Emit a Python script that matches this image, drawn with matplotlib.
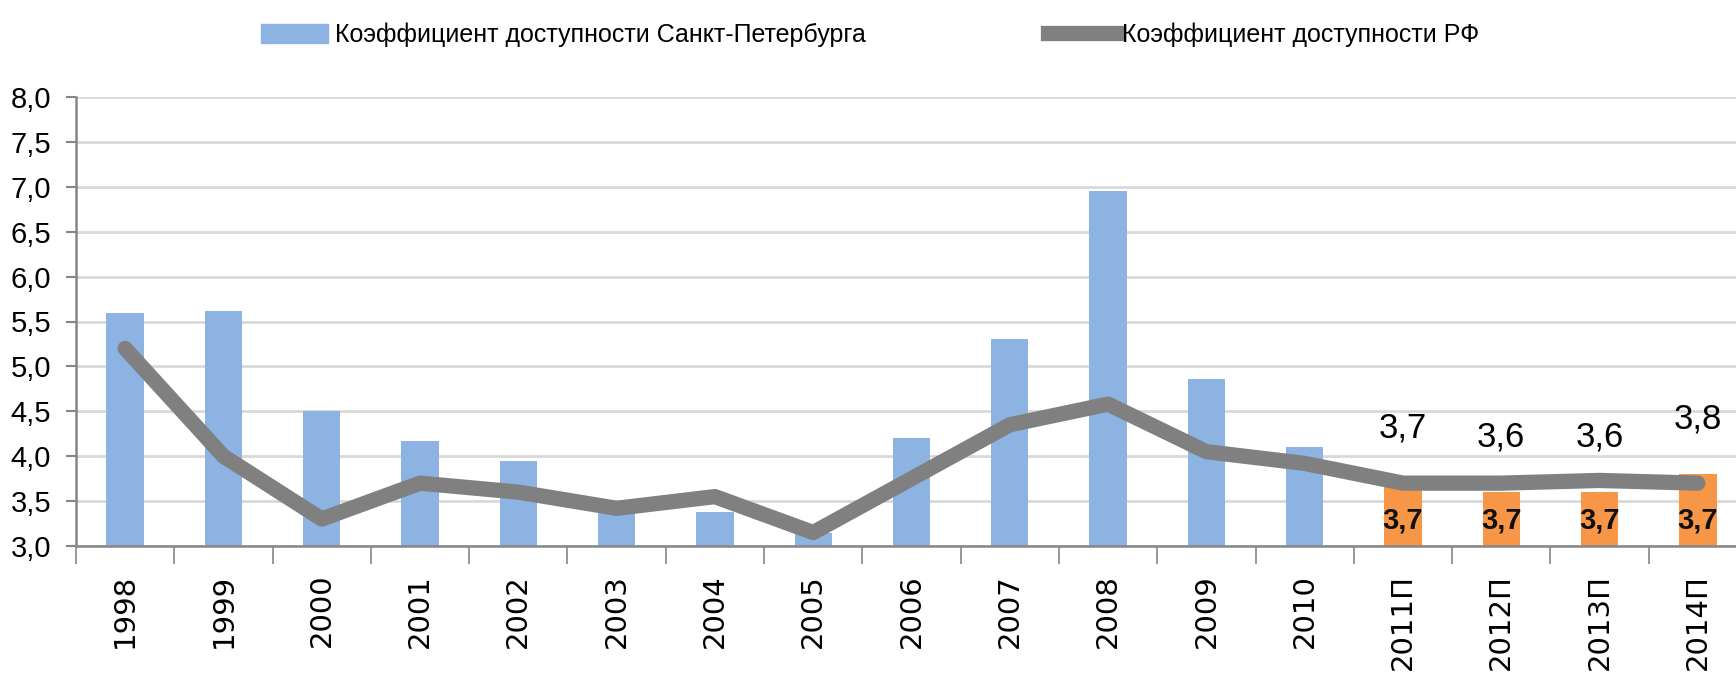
import matplotlib.pyplot as plt
from matplotlib.lines import Line2D
from matplotlib.patches import Patch
from matplotlib.ticker import FuncFormatter

plt.rcParams['font.family'] = ['Liberation Sans', 'DejaVu Sans']

years = ['1998', '1999', '2000', '2001', '2002', '2003', '2004', '2005', '2006',
         '2007', '2008', '2009', '2010', '2011П', '2012П', '2013П', '2014П']
spb = [5.6, 5.62, 4.5, 4.17, 3.95, 3.4, 3.38, 3.15, 4.2,
       5.3, 6.95, 4.86, 4.1, 3.7, 3.6, 3.6, 3.8]
rf = [5.2, 4.0, 3.3, 3.7, 3.6, 3.42, 3.55, 3.15, 3.75,
      4.35, 4.58, 4.05, 3.92, 3.7, 3.7, 3.73, 3.7]
forecast = [False] * 13 + [True] * 4
rf_labels = ['3,7', '3,7', '3,7', '3,7']

BLUE = '#8db3e2'
ORANGE = '#f79646'
GREY = '#808080'

fig = plt.figure(figsize=(17.36, 6.93), dpi=100)
ax = fig.add_axes([76 / 1736, 147 / 693, (1747 - 76) / 1736, 449 / 693])

x = list(range(len(years)))
colors = [ORANGE if f else BLUE for f in forecast]
ax.bar(x, [v - 3.0 for v in spb], bottom=3.0, width=0.38, color=colors, zorder=2)
ax.plot(x, rf, color=GREY, lw=11, solid_capstyle='round', solid_joinstyle='round', zorder=3)

# forecast labels
for i, f in enumerate(forecast):
    if not f:
        continue
    ax.annotate(f'{spb[i]:.1f}'.replace('.', ','), (i, spb[i]), xytext=(0, 40),
                textcoords='offset points', ha='center', va='center', fontsize=25, zorder=4)
fc_idx = [i for i, f in enumerate(forecast) if f]
for i, lab in zip(fc_idx, rf_labels):
    ax.text(i, 3.28, lab, ha='center', va='center', fontsize=21, fontweight='bold',
            color='#111111', zorder=4)

ax.set_xlim(-0.5, len(years) - 0.5)
ax.set_ylim(3.0, 8.0)
ax.set_yticks([3.0 + 0.5 * k for k in range(11)])
ax.yaxis.set_major_formatter(FuncFormatter(lambda v, p: f'{v:.1f}'.replace('.', ',')))
ax.tick_params(axis='y', labelsize=21, length=7, width=1.5, color='#868686', pad=11)
ax.grid(axis='y', color='#d9d9d9', lw=2, zorder=0)
ax.set_axisbelow(True)

ax.set_xticks(x)
ax.set_xticklabels(years, rotation=90, fontsize=21, family=['DejaVu Sans'])
ax.set_xticks([k - 0.5 for k in range(len(years) + 1)], minor=True)
ax.tick_params(axis='x', which='major', length=0, pad=20)
ax.tick_params(axis='x', which='minor', length=13, width=1.2, color='#868686')
for lab in ax.get_xticklabels():
    lab.set_va('top')

for s in ['top', 'right']:
    ax.spines[s].set_visible(False)
for s in ['left', 'bottom']:
    ax.spines[s].set_color('#868686')
    ax.spines[s].set_linewidth(1.8)

handles = [Patch(color=BLUE), Line2D([], [], color=GREY, lw=11)]
labels = ['Коэффициент доступности Санкт-Петербурга', 'Коэффициент доступности РФ']
fig.legend(handles, labels, loc='center', bbox_to_anchor=(870 / 1736, 1 - 35 / 693), ncol=2,
           frameon=False, fontsize=18, handlelength=2.7, handleheight=0.8,
           handletextpad=0.25, columnspacing=7.3)

fig.savefig('out.png', dpi=100)
